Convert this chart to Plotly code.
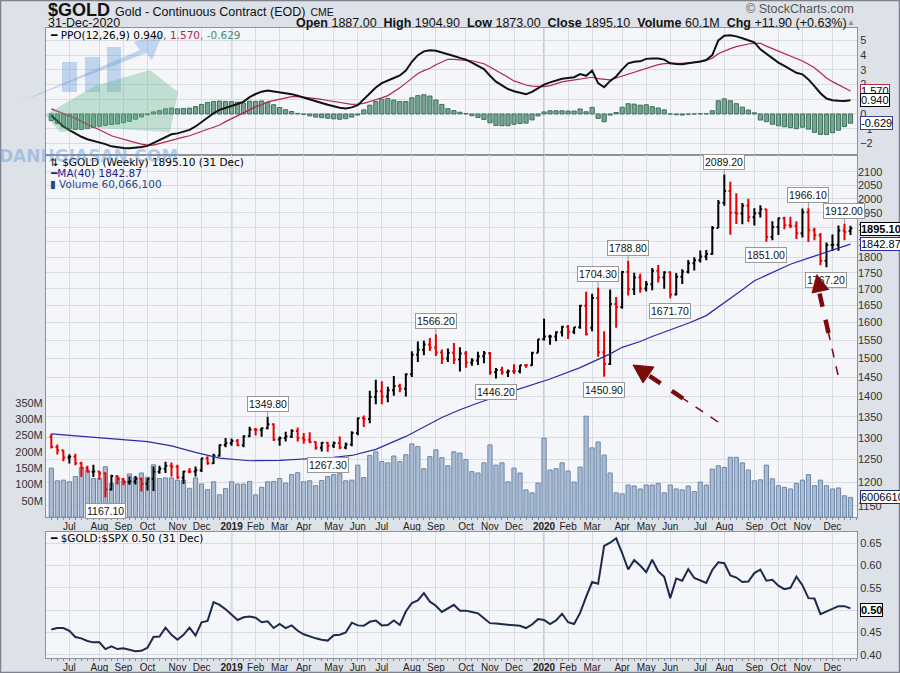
import numpy as np
import pandas as pd
import plotly.graph_objects as go

# weekly bars, dated by the Monday of each week
dates = pd.date_range("2018-06-11", periods=134, freq="7D")

opens = [1302.0, 1278.5, 1270.7, 1254.5, 1255.8, 1241.2, 1231.1, 1222.5, 1223.3, 1219.0,
         1184.2, 1213.3, 1206.7, 1200.1, 1201.5, 1207.4, 1196.2, 1207.3, 1222.3, 1229.4,
         1235.9, 1233.4, 1210.2, 1223.2, 1223.1, 1226.0, 1252.6, 1241.4, 1258.1, 1282.7,
         1287.2, 1292.2, 1282.6, 1303.6, 1319.1, 1318.5, 1322.1, 1332.0, 1296.0, 1299.2,
         1302.9, 1315.7, 1298.5, 1295.4, 1290.1, 1276.9, 1288.2, 1281.3, 1287.4, 1277.3,
         1284.3, 1311.1, 1346.1, 1344.5, 1399.1, 1413.7, 1400.1, 1415.8, 1427.0, 1419.9,
         1457.5, 1509.5, 1523.6, 1537.6, 1529.4, 1515.5, 1499.5, 1515.1, 1497.0, 1512.9,
         1488.9, 1494.1, 1505.3, 1513.4, 1462.9, 1468.5, 1463.0, 1465.6, 1465.1, 1481.5,
         1481.3, 1515.4, 1552.4, 1560.2, 1560.3, 1571.9, 1587.9, 1573.4, 1586.4, 1648.8,
         1585.0, 1672.4, 1516.7, 1484.6, 1654.1, 1645.7, 1752.8, 1698.6, 1735.6, 1700.9,
         1713.9, 1756.3, 1735.5, 1751.7, 1683.0, 1737.3, 1753.0, 1780.3, 1790.0, 1801.9,
         1810.0, 1897.5, 1985.9, 2028.0, 1949.7, 1947.0, 1974.9, 1934.3, 1947.9, 1962.1,
         1866.3, 1900.2, 1930.4, 1906.4, 1905.2, 1879.2, 1951.7, 1889.3, 1872.4, 1788.1,
         1840.0, 1841.0, 1888.9, 1887.0]

highs = [1309, 1284, 1272, 1262, 1263, 1245, 1236, 1238, 1224, 1221,
         1216, 1215, 1209, 1212, 1213, 1210, 1208, 1234, 1236, 1245,
         1243, 1238, 1225, 1231, 1234, 1253, 1257, 1263, 1284, 1299,
         1298, 1297, 1306, 1326, 1323, 1324, 1349.8, 1334, 1303, 1314,
         1320, 1324, 1311, 1313, 1291, 1290, 1290, 1291, 1303, 1289,
         1315, 1348, 1353, 1415, 1442.9, 1439, 1425, 1453, 1433, 1460,
         1519, 1546, 1548, 1556, 1566.2, 1524, 1527, 1542, 1530, 1520,
         1500, 1518, 1520, 1517, 1474, 1477, 1470, 1484, 1482, 1485,
         1518, 1553, 1611, 1565, 1575, 1590, 1593, 1587, 1652, 1691,
         1685, 1704.3, 1575, 1698, 1675, 1756, 1788.8, 1750, 1747, 1724,
         1765, 1775, 1755, 1755, 1749, 1761, 1791, 1800, 1822, 1823,
         1904, 1995, 2089.2, 2062, 2020, 1985, 2000, 1966, 1977, 1963,
         1920, 1933, 1936, 1936, 1920, 1965, 1966.1, 1898, 1880, 1848,
         1875, 1906, 1912, 1904.9]

lows = [1275, 1261, 1246, 1241, 1237, 1211, 1221, 1211, 1205, 1167.1,
        1182, 1195, 1193, 1194, 1195, 1180, 1182, 1181, 1218, 1220,
        1212, 1207, 1196, 1219, 1212, 1222, 1238, 1240, 1256, 1278,
        1281, 1280, 1278, 1301, 1305, 1302, 1320, 1292, 1281, 1291,
        1299, 1291, 1286, 1287, 1272, 1268, 1267.3, 1276, 1273, 1273,
        1280, 1306, 1325, 1334, 1381, 1381, 1386, 1402, 1411, 1400,
        1450, 1490, 1508, 1520, 1506, 1485, 1490, 1485, 1465, 1475,
        1480, 1482, 1487, 1456, 1446.2, 1456, 1450, 1458, 1460, 1475,
        1480, 1515, 1549, 1537, 1547, 1560, 1553, 1567, 1582, 1563,
        1575, 1504, 1450.9, 1482, 1585, 1640, 1680, 1681, 1688, 1692,
        1696, 1720, 1700, 1671.7, 1680, 1715, 1748, 1757, 1783, 1790,
        1808, 1897, 1975, 1874, 1911, 1910, 1918, 1906, 1933, 1851,
        1856, 1873, 1893, 1897, 1860, 1865, 1850, 1856, 1774, 1767.2,
        1820, 1821, 1856, 1873]

closes = [1278.5, 1270.7, 1254.5, 1255.8, 1241.2, 1231.1, 1222.5, 1223.3, 1219.0, 1184.2,
          1213.3, 1206.7, 1200.1, 1201.5, 1207.4, 1196.2, 1207.3, 1222.3, 1229.4, 1235.9,
          1233.4, 1210.2, 1223.2, 1223.1, 1226.0, 1252.6, 1241.4, 1258.1, 1282.7, 1287.2,
          1292.2, 1282.6, 1303.6, 1319.1, 1318.5, 1322.1, 1332.0, 1296.0, 1299.2, 1302.9,
          1315.7, 1298.5, 1295.4, 1290.1, 1276.9, 1288.2, 1281.3, 1287.4, 1277.3, 1284.3,
          1311.1, 1346.1, 1344.5, 1399.1, 1413.7, 1400.1, 1415.8, 1427.0, 1419.9, 1457.5,
          1509.5, 1523.6, 1537.6, 1529.4, 1515.5, 1499.5, 1515.1, 1497.0, 1512.9, 1488.9,
          1494.1, 1505.3, 1513.4, 1462.9, 1468.5, 1463.0, 1465.6, 1465.1, 1481.5, 1481.3,
          1515.4, 1552.4, 1560.2, 1560.3, 1571.9, 1587.9, 1573.4, 1586.4, 1648.8, 1566.7,
          1672.4, 1516.7, 1484.6, 1654.1, 1645.7, 1752.8, 1698.6, 1735.6, 1700.9, 1713.9,
          1756.3, 1735.5, 1751.7, 1683.0, 1737.3, 1753.0, 1780.3, 1790.0, 1801.9, 1810.0,
          1897.5, 1985.9, 2028.0, 1949.7, 1947.0, 1974.9, 1934.3, 1947.9, 1962.1, 1866.3,
          1900.2, 1930.4, 1906.4, 1905.2, 1879.2, 1951.7, 1889.3, 1872.4, 1788.1, 1840.0,
          1841.0, 1888.9, 1883.2, 1895.1]

# weekly volume, millions of contracts
volume_m = [150, 111, 113, 108, 124, 152, 144, 118, 118, 154,
            103, 122, 111, 132, 122, 135, 122, 160, 118, 120,
            120, 113, 113, 88, 120, 101, 84, 108, 68, 87,
            108, 101, 101, 109, 68, 91, 108, 109, 118, 104,
            130, 136, 108, 111, 96, 112, 124, 130, 133, 111,
            113, 159, 121, 189, 200, 170, 166, 187, 170, 191,
            224, 216, 148, 185, 206, 182, 157, 200, 196, 176,
            139, 135, 166, 221, 159, 166, 108, 150, 135, 83,
            74, 104, 242, 144, 148, 166, 141, 107, 153, 309,
            212, 230, 190, 135, 74, 71, 98, 95, 86, 98,
            98, 103, 74, 98, 86, 83, 95, 78, 107, 98,
            147, 157, 152, 183, 183, 166, 144, 111, 114, 159,
            117, 96, 91, 86, 103, 113, 130, 96, 113, 96,
            86, 89, 65, 60.07]

# MA(40) at these weeks
ma_weeks = [0, 5, 10, 16, 20, 24, 28, 33, 38, 43, 47, 50, 54, 59, 62, 65, 68, 71, 77, 83,
            88, 91, 93, 95, 98, 100, 103, 106, 109, 112, 115, 117, 120, 123, 126, 128, 131, 133]
ma_vals = [1309, 1303, 1298, 1291, 1281, 1266, 1253, 1247, 1248, 1251, 1255, 1259, 1273, 1303,
           1325, 1348, 1367, 1384, 1415, 1445, 1475, 1497, 1512, 1530, 1546, 1560, 1578, 1598,
           1620, 1657, 1697, 1725, 1752, 1777, 1797, 1810, 1830, 1842.87]

ppo = [-0.10, -0.45, -0.85, -1.10, -1.35, -1.55, -1.72, -1.82, -1.90, -2.05,
       -2.20, -2.28, -2.32, -2.33, -2.30, -2.25, -2.17, -1.98, -1.77, -1.55,
       -1.38, -1.32, -1.20, -1.08, -0.85, -0.55, -0.25, 0.05, 0.28, 0.40,
       0.54, 0.68, 0.84, 1.15, 1.36, 1.52, 1.60, 1.55, 1.46, 1.40,
       1.35, 1.24, 1.13, 1.00, 0.86, 0.75, 0.63, 0.52, 0.42, 0.38,
       0.45, 0.60, 1.00, 1.45, 1.80, 2.10, 2.30, 2.45, 2.62, 2.95,
       3.55, 4.00, 4.26, 4.33, 4.30, 4.20, 4.08, 3.95, 3.82, 3.70,
       3.50, 3.28, 3.05, 2.60, 2.20, 1.95, 1.70, 1.55, 1.45, 1.35,
       1.50, 1.75, 2.00, 2.15, 2.30, 2.40, 2.45, 2.50, 2.72, 2.60,
       2.95, 2.10, 1.82, 2.25, 2.55, 3.04, 3.45, 3.55, 3.58, 3.75,
       3.78, 3.77, 3.70, 3.45, 3.40, 3.38, 3.45, 3.50, 3.57, 3.67,
       4.01, 5.00, 5.33, 5.35, 5.28, 5.15, 5.03, 4.88, 4.40, 4.10,
       3.75, 3.50, 3.28, 3.05, 2.80, 2.70, 2.35, 1.90, 1.41, 1.05,
       0.93, 0.90, 0.89, 0.94]

ppo_signal = [0.35, 0.20, 0.03, -0.12, -0.30, -0.50, -0.72, -0.90, -1.07, -1.28,
              -1.48, -1.60, -1.73, -1.83, -1.95, -2.05, -2.12, -2.12, -2.00, -1.90,
              -1.78, -1.67, -1.57, -1.48, -1.35, -1.20, -1.04, -0.90, -0.75, -0.52,
              -0.33, -0.12, 0.10, 0.28, 0.50, 0.63, 0.82, 0.92, 1.02, 1.11,
              1.18, 1.20, 1.16, 1.13, 1.07, 1.00, 0.92, 0.85, 0.78, 0.70,
              0.66, 0.67, 0.72, 0.85, 0.95, 1.10, 1.25, 1.50, 1.78, 2.10,
              2.45, 2.75, 2.95, 3.11, 3.35, 3.55, 3.72, 3.72, 3.70, 3.67,
              3.62, 3.52, 3.42, 3.20, 2.98, 2.75, 2.50, 2.25, 2.10, 1.97,
              1.90, 1.88, 1.86, 1.93, 2.08, 2.18, 2.25, 2.30, 2.38, 2.45,
              2.50, 2.40, 2.35, 2.32, 2.45, 2.58, 2.75, 2.88, 2.98, 3.12,
              3.28, 3.36, 3.42, 3.45, 3.45, 3.45, 3.47, 3.50, 3.55, 3.65,
              3.79, 4.10, 4.30, 4.45, 4.58, 4.68, 4.76, 4.80, 4.81, 4.62,
              4.45, 4.30, 4.15, 3.98, 3.80, 3.60, 3.38, 3.15, 2.80, 2.45,
              2.20, 2.00, 1.75, 1.57]

ppo_hist = [-0.45, -0.65, -0.88, -0.98, -1.05, -1.05, -1.00, -0.92, -0.83, -0.77,
            -0.72, -0.68, -0.59, -0.50, -0.35, -0.20, -0.05, 0.14, 0.23, 0.35,
            0.40, 0.35, 0.37, 0.40, 0.50, 0.65, 0.79, 0.85, 0.88, 0.85,
            0.84, 0.80, 0.74, 0.87, 0.86, 0.89, 0.78, 0.63, 0.44, 0.29,
            0.17, 0.04, -0.03, -0.13, -0.21, -0.25, -0.29, -0.33, -0.36, -0.32,
            -0.21, -0.07, 0.28, 0.60, 0.85, 1.00, 1.05, 0.95, 0.84, 0.85,
            1.10, 1.25, 1.31, 1.22, 0.95, 0.65, 0.36, 0.23, 0.12, 0.03,
            -0.12, -0.24, -0.37, -0.60, -0.78, -0.80, -0.80, -0.70, -0.65, -0.62,
            -0.40, -0.13, 0.14, 0.22, 0.22, 0.22, 0.20, 0.20, 0.34, 0.15,
            0.45, -0.30, -0.53, -0.07, 0.10, 0.46, 0.70, 0.67, 0.60, 0.63,
            0.50, 0.41, 0.28, 0.00, -0.05, -0.07, -0.02, 0.00, 0.02, 0.02,
            0.22, 0.90, 1.03, 0.90, 0.70, 0.47, 0.27, 0.08, -0.41, -0.52,
            -0.70, -0.80, -0.87, -0.93, -1.00, -0.90, -1.03, -1.25, -1.39, -1.40,
            -1.27, -1.10, -0.86, -0.63]

gold_spx = [0.457, 0.460, 0.460, 0.454, 0.440, 0.437, 0.431, 0.428, 0.428, 0.413,
            0.419, 0.413, 0.415, 0.411, 0.408, 0.409, 0.416, 0.440, 0.441, 0.461,
            0.445, 0.434, 0.445, 0.461, 0.443, 0.473, 0.476, 0.518, 0.512, 0.502,
            0.490, 0.478, 0.484, 0.486, 0.483, 0.473, 0.475, 0.460, 0.469, 0.460,
            0.466, 0.454, 0.446, 0.441, 0.437, 0.434, 0.432, 0.444, 0.445, 0.450,
            0.472, 0.466, 0.465, 0.474, 0.477, 0.466, 0.467, 0.477, 0.467, 0.497,
            0.516, 0.522, 0.538, 0.519, 0.510, 0.496, 0.505, 0.512, 0.499, 0.499,
            0.496, 0.493, 0.482, 0.471, 0.470, 0.469, 0.468, 0.466, 0.465, 0.460,
            0.468, 0.480, 0.478, 0.469, 0.477, 0.492, 0.473, 0.469, 0.494, 0.530,
            0.563, 0.559, 0.644, 0.651, 0.661, 0.628, 0.591, 0.612, 0.600, 0.585,
            0.613, 0.587, 0.575, 0.527, 0.571, 0.566, 0.592, 0.572, 0.566, 0.561,
            0.590, 0.607, 0.605, 0.578, 0.573, 0.563, 0.564, 0.583, 0.591, 0.566,
            0.568, 0.555, 0.547, 0.550, 0.575, 0.556, 0.527, 0.526, 0.491, 0.497,
            0.502, 0.509, 0.509, 0.504]

month_ticks = ["2018-07-02", "2018-08-06", "2018-09-03", "2018-10-01", "2018-11-05", "2018-12-03",
               "2019-01-07", "2019-02-04", "2019-03-04", "2019-04-01", "2019-05-06", "2019-06-03",
               "2019-07-01", "2019-08-05", "2019-09-02", "2019-10-07", "2019-11-04", "2019-12-02",
               "2020-01-06", "2020-02-03", "2020-03-02", "2020-04-06", "2020-05-04", "2020-06-01",
               "2020-07-06", "2020-08-03", "2020-09-07", "2020-10-05", "2020-11-02", "2020-12-07"]
month_labels = ["Jul", "Aug", "Sep", "Oct", "Nov", "Dec", "<b>2019</b>", "Feb", "Mar", "Apr", "May", "Jun",
                "Jul", "Aug", "Sep", "Oct", "Nov", "Dec", "<b>2020</b>", "Feb", "Mar", "Apr", "May", "Jun",
                "Jul", "Aug", "Sep", "Oct", "Nov", "Dec"]
year_lines = ["2019-01-07", "2020-01-06"]

# swing high / low callouts
label_weeks = [9, 36, 46, 64, 74, 91, 92, 96, 103, 112, 119, 126, 129, 132]
label_vals = [1167.10, 1349.80, 1267.30, 1566.20, 1446.20, 1704.30, 1450.90,
              1788.80, 1671.70, 2089.20, 1851.00, 1966.10, 1767.20, 1912.00]
label_side = ["low", "high", "low", "high", "low", "high", "low",
              "high", "low", "high", "low", "high", "low", "high"]

price_ticks = list(range(1150, 2101, 50))
vol_ticks = [50, 100, 150, 200, 250, 300, 350]

# ---- styling ----
PAPER = "#dde1e8"
PLOT_BG = "#f4f6fa"
GRID = "#d9dce3"
BORDER = "#8c919b"
RED = "#e60000"
AXFONT = dict(family="Liberation Sans, Arial", size=11, color="#333")
LEGFONT = "DejaVu Sans, Verdana"
WEEK = 7 * 24 * 3600 * 1000
X_RANGE = ["2018-06-04 19:00", "2021-01-04 14:00"]


def px(x):
    return (x - 46) / 811


def py(y):
    return (658 - y) / 630


fig = go.Figure()

# PPO panel
fig.add_trace(go.Bar(x=dates, y=ppo_hist, width=0.7 * WEEK, xaxis="x", yaxis="y",
                     marker=dict(color="#76a592", line=dict(color="#3f6f5c", width=1))))
fig.add_trace(go.Scatter(x=dates, y=ppo_signal, mode="lines", xaxis="x", yaxis="y",
                         line=dict(color="#b3264d", width=1.2)))
fig.add_trace(go.Scatter(x=dates, y=ppo, mode="lines", xaxis="x", yaxis="y",
                         line=dict(color="#111111", width=2)))

# volume (base axis, drawn first) then price on the overlaying log axis
fig.add_trace(go.Bar(x=dates, y=[v * 1e6 for v in volume_m], width=0.7 * WEEK, xaxis="x2", yaxis="y2",
                     marker=dict(color="#a9bcd3", line=dict(color="#6d86a7", width=1))))
fig.add_trace(go.Scatter(x=dates[ma_weeks], y=ma_vals, mode="lines", xaxis="x2", yaxis="y3",
                         line=dict(color="#2b2ba6", width=1.2)))

up_idx = [i for i in range(len(closes)) if i > 0 and closes[i] >= closes[i - 1]]
dn_idx = [i for i in range(len(closes)) if i not in up_idx]
for idx, col in [(up_idx, "#000000"), (dn_idx, RED)]:
    fig.add_trace(go.Ohlc(
        x=dates[idx], open=[opens[i] for i in idx], high=[highs[i] for i in idx],
        low=[lows[i] for i in idx], close=[closes[i] for i in idx],
        increasing=dict(line=dict(color=col, width=2)),
        decreasing=dict(line=dict(color=col, width=2)),
        tickwidth=0.3, xaxis="x2", yaxis="y3", hoverinfo="skip"))

# ratio panel
fig.add_trace(go.Scatter(x=dates, y=gold_spx, mode="lines", xaxis="x3", yaxis="y4",
                         line=dict(color="#1c2b4c", width=2)))

xcommon = dict(type="date", range=X_RANGE, tickvals=month_ticks, ticktext=month_labels,
               showgrid=True, gridcolor=GRID, gridwidth=1, showline=True, linecolor=BORDER,
               mirror=True, ticks="", tickfont=dict(family="Liberation Sans, Arial", size=10, color="#222"),
               zeroline=False, fixedrange=True, automargin=False)

fig.update_layout(
    template="none",
    width=900, height=673,
    margin=dict(l=46, r=43, t=28, b=15, autoexpand=False),
    paper_bgcolor=PAPER, plot_bgcolor=PLOT_BG,
    showlegend=False, barmode="overlay",
    xaxis=dict(xcommon, anchor="y", showticklabels=False),
    yaxis=dict(domain=[py(155), 1.0], anchor="x", side="right", range=[-2.79, 5.85],
               tickvals=list(range(-2, 6)), showgrid=True, gridcolor=GRID, zeroline=False,
               showline=True, linecolor=BORDER, mirror=True, tickfont=AXFONT, ticks="",
               automargin=False),
    xaxis2=dict(xcommon, anchor="y2", matches="x", rangeslider=dict(visible=False),
                minor=dict(ticks="outside", ticklen=2, tickcolor="#888", dtick=WEEK,
                           tick0="2018-06-11", showgrid=False)),
    yaxis2=dict(domain=[py(517), py(155)], anchor="x2", side="left", range=[0, 1110e6],
                tickvals=[v * 1e6 for v in vol_ticks], ticktext=[f"{v}M" for v in vol_ticks],
                showgrid=False, zeroline=False, showline=True, linecolor=BORDER, mirror=True,
                tickfont=AXFONT, ticks="", automargin=False),
    yaxis3=dict(overlaying="y2", anchor="x2", side="right", type="log",
                range=[np.log10(1126.8), np.log10(2164)], tickvals=price_ticks,
                ticktext=[str(v) for v in price_ticks], showgrid=True, gridcolor=GRID,
                zeroline=False, tickfont=AXFONT, ticks="", automargin=False),
    xaxis3=dict(xcommon, anchor="y4", matches="x",
                minor=dict(ticks="outside", ticklen=2, tickcolor="#888", dtick=WEEK,
                           tick0="2018-06-11", showgrid=False)),
    yaxis4=dict(domain=[0.0, py(532)], anchor="x3", side="right", range=[0.393, 0.675],
                tickvals=[0.40, 0.45, 0.50, 0.55, 0.60, 0.65], tickformat=".2f",
                showgrid=True, gridcolor=GRID, zeroline=False, showline=True,
                linecolor=BORDER, mirror=True, tickfont=AXFONT, ticks="", automargin=False),
)

shapes = []
# darker year separators in each panel (paper space)
panels = [(py(155), 1.0), (py(517), py(155)), (0.0, py(532))]
x0_ms = pd.Timestamp(X_RANGE[0]).value / 1e6
x1_ms = pd.Timestamp(X_RANGE[1]).value / 1e6
for d in year_lines:
    xp = (pd.Timestamp(d).value / 1e6 - x0_ms) / (x1_ms - x0_ms)
    for lo, hi in panels:
        shapes.append(dict(type="line", xref="paper", yref="paper", x0=xp, x1=xp, y0=lo, y1=hi,
                           line=dict(color="#b7bcc6", width=1.5), layer="below"))
# outer frame
shapes.append(dict(type="rect", xref="paper", yref="paper", x0=px(0.5), x1=px(899.5),
                   y0=py(672.5), y1=py(0.5), line=dict(color="#7d828c", width=1.5)))

# faint watermark logo, top left
wm_blue = "rgba(95,150,215,0.35)"
wm_green = "rgba(95,180,135,0.35)"
for x0, x1, y0 in [(62, 77, 62), (85, 100, 57), (107, 121, 47)]:
    shapes.append(dict(type="rect", xref="paper", yref="paper", x0=px(x0), x1=px(x1),
                       y0=py(92), y1=py(y0), line=dict(width=0), fillcolor=wm_blue))


def poly(points):
    return "M " + " L ".join(f"{px(a)} {py(b)}" for a, b in points) + " Z"


shapes.append(dict(type="path", xref="paper", yref="paper",
                   path=poly([(22, 101), (140, 50), (134, 42), (163, 33), (152, 60), (146, 53)]),
                   line=dict(width=0), fillcolor=wm_blue))
shapes.append(dict(type="path", xref="paper", yref="paper",
                   path=poly([(45, 115), (95, 86), (150, 70), (178, 92), (170, 132), (95, 128), (60, 132)]),
                   line=dict(width=0), fillcolor=wm_green))

# dashed dark-red arrows: thin tail, thick shaft
ARROW = "#7b0b0b"
arrows = [((718, 422), (648, 375)), ((838, 375), (819, 291))]
for (tx, ty), (bx, by) in arrows:
    mx, my = (tx + bx) / 2, (ty + by) / 2
    shapes.append(dict(type="line", xref="paper", yref="paper", x0=px(tx), y0=py(ty),
                       x1=px(mx), y1=py(my), line=dict(color=ARROW, width=1.5, dash="dash")))
    shapes.append(dict(type="line", xref="paper", yref="paper", x0=px(mx), y0=py(my),
                       x1=px(bx), y1=py(by), line=dict(color=ARROW, width=4.5, dash="dash")))
# first arrow head as a filled triangle
shapes.append(dict(type="path", xref="paper", yref="paper",
                   path=poly([(633, 365), (654, 367), (643, 383)]),
                   line=dict(color=ARROW, width=1), fillcolor=ARROW))
fig.update_layout(shapes=shapes)

ann = []
# callout boxes for swing highs and lows
for w, v, side in zip(label_weeks, label_vals, label_side):
    ann.append(dict(x=dates[w], y=np.log10(v), xref="x2", yref="y3", text=f"{v:.2f}",
                    showarrow=True, arrowhead=0, arrowwidth=1, arrowcolor="#999",
                    ax=0, ay=-13 if side == "high" else 13,
                    font=dict(family="Liberation Sans, Arial", size=10.5, color="#111"),
                    bgcolor="white", bordercolor="#999", borderwidth=1, borderpad=1))

# second arrow head sits on top of the 1767.20 callout, so it is drawn as a glyph
ann.append(dict(x=px(818.5), y=py(281), xref="paper", yref="paper", text="▲", showarrow=False,
                textangle=-12, xanchor="center", yanchor="middle",
                font=dict(family="DejaVu Sans", size=24, color=ARROW)))

# right-edge value tags
tags = [(1895.10, "y3", "<b>1895.10</b>", "#000"),
        (1842.87, "y3", "1842.87", "#2b2ba6"),
        (60.07e6, "y2", "60066100", "#1c2b6c"),
        (1.570, "y", "1.570", "#b3264d"),
        (0.940, "y", "0.940", "#000"),
        (-0.629, "y", "-0.629", "#3c3c9c"),
        (0.50, "y4", "<b>0.50</b>", "#000")]
for val, yref, txt, col in tags:
    yv = np.log10(val) if yref == "y3" else val
    ann.append(dict(x=1.004, y=yv, xref="paper", yref=yref, text=txt, showarrow=False,
                    xanchor="left", yanchor="middle",
                    font=dict(family="Liberation Sans, Arial", size=11, color="#000"),
                    bgcolor="white", bordercolor=col, borderwidth=1, borderpad=0))


def leg(x, y, text, size=10.5, color="#000"):
    return dict(x=px(x), y=py(y), xref="paper", yref="paper", text=text, showarrow=False,
                xanchor="left", yanchor="middle", font=dict(family=LEGFONT, size=size, color=color))


# panel legends
ann.append(leg(48, 35, "<b>━</b> PPO(12,26,9) 0.940<span style='color:#b3264d'>, 1.570</span>"
                       "<span style='color:#4c8a70'>, -0.629</span>"))
ann.append(leg(48, 162, "⇅ $GOLD (Weekly) 1895.10 (31 Dec)"))
ann.append(leg(48, 173, "<b>━</b>MA(40) 1842.87", color="#1d1d8c"))
ann.append(leg(48, 184, "▮ Volume 60,066,100", color="#1f4a8a"))
ann.append(leg(48, 538, "<b>━</b> $GOLD:$SPX 0.50 (31 Dec)"))

# header
HF = "Liberation Sans, Arial"
ann.append(dict(x=px(46), y=py(10), xref="paper", yref="paper", showarrow=False,
                xanchor="left", yanchor="middle",
                text="<b>$GOLD</b> <span style='font-size:12.5px'>Gold - Continuous Contract (EOD)</span>"
                     " <span style='font-size:10.5px'>CME</span>",
                font=dict(family=HF, size=18, color="#111")))
ann.append(dict(x=px(46), y=py(22.5), xref="paper", yref="paper", showarrow=False,
                xanchor="left", yanchor="middle", text="31-Dec-2020",
                font=dict(family=HF, size=12.5, color="#111")))
ann.append(dict(x=px(849), y=py(22.5), xref="paper", yref="paper", showarrow=False,
                xanchor="right", yanchor="middle",
                text="<b>Open</b> 1887.00  <b>High</b> 1904.90  <b>Low</b> 1873.00  "
                     "<b>Close</b> 1895.10  <b>Volume</b> 60.1M  <b>Chg</b> +11.90 (+0.63%)",
                font=dict(family=HF, size=12.5, color="#111")))
ann.append(dict(x=px(857), y=py(22.5), xref="paper", yref="paper", showarrow=False,
                xanchor="right", yanchor="middle", text="▲",
                font=dict(family=HF, size=8, color="#8a8f98")))
ann.append(dict(x=px(856), y=py(9), xref="paper", yref="paper", showarrow=False,
                xanchor="right", yanchor="middle", text="© StockCharts.com",
                font=dict(family=HF, size=12.5, color="#555")))

# watermark text
ann.append(dict(x=px(88), y=py(156), xref="paper", yref="paper", showarrow=False,
                xanchor="center", yanchor="middle", text="<b>DANHGIASAN.COM</b>",
                font=dict(family="DejaVu Sans, sans-serif", size=17, color="rgba(95,150,215,0.45)")))

fig.update_layout(annotations=ann)

# the page body has a default 8px margin; drop it so the 900x673 figure fills the window
fig.write_html("out.html", config={"displayModeBar": False},
               post_script="document.body.style.margin='0px';")
